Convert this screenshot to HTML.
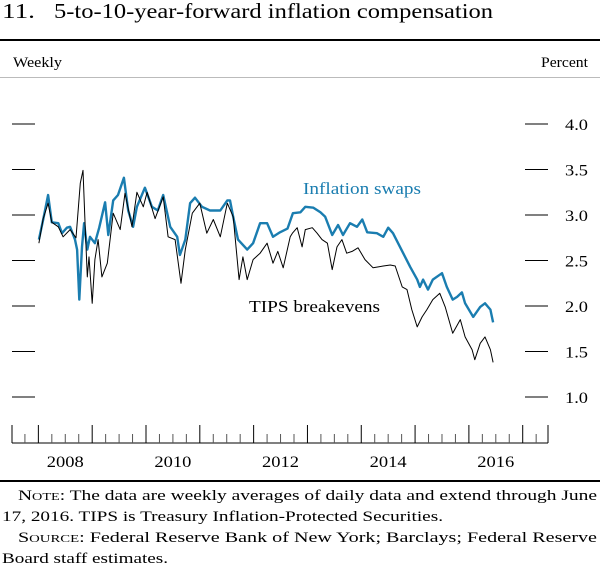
<!DOCTYPE html>
<html><head><meta charset="utf-8"><style>
body{margin:0;background:#fff;width:600px;height:567px;overflow:hidden;}
svg text{font-family:"Liberation Serif",serif;}
</style></head><body>
<svg width="600" height="567" xmlns="http://www.w3.org/2000/svg" style="position:absolute;left:0;top:0">
<text x="2" y="18" font-size="21" textLength="33" lengthAdjust="spacingAndGlyphs">11.</text>
<text x="54" y="18" font-size="21" textLength="439" lengthAdjust="spacingAndGlyphs">5-to-10-year-forward inflation compensation</text>
<rect x="0" y="39" width="600" height="2" fill="#000"/>
<text x="13" y="67" font-size="15" textLength="49" lengthAdjust="spacingAndGlyphs">Weekly</text>
<text x="541" y="67" font-size="15" textLength="47" lengthAdjust="spacingAndGlyphs">Percent</text>
<line x1="0" x2="600" y1="77.5" y2="77.5" stroke="#bbb" stroke-width="1"/>
<g id="yaxis"></g>
<g id="xaxis"></g>
<g id="series"></g>
<text x="303" y="194" font-size="17" fill="#1a7db0" textLength="118" lengthAdjust="spacingAndGlyphs">Inflation swaps</text>
<text x="249" y="312" font-size="17" fill="#000" textLength="131" lengthAdjust="spacingAndGlyphs">TIPS breakevens</text>
<rect x="0" y="480" width="600" height="2" fill="#000"/>
<text x="18" y="500" font-size="15" textLength="579" lengthAdjust="spacingAndGlyphs">N<tspan font-size="11">OTE</tspan>:  The data are weekly averages of daily data and extend through June</text>
<text x="2" y="521" font-size="15" textLength="441" lengthAdjust="spacingAndGlyphs">17, 2016. TIPS is Treasury Inflation-Protected Securities.</text>
<text x="18" y="542" font-size="15" textLength="579" lengthAdjust="spacingAndGlyphs">S<tspan font-size="11">OURCE</tspan>:  Federal Reserve Bank of New York; Barclays; Federal Reserve</text>
<text x="2" y="563" font-size="15" textLength="166" lengthAdjust="spacingAndGlyphs">Board staff estimates.</text>
</svg>
<script>
const yTicks=[1.0,1.5,2.0,2.5,3.0,3.5,4.0];
const xYears=[2008,2009,2010,2011,2012,2013,2014,2015,2016,2017];
const xLabels=["2008","2010","2012","2014","2016"];
const tipsDates=[2008.01,2008.09,2008.18,2008.25,2008.37,2008.46,2008.59,2008.70,2008.78,2008.83,2008.87,2008.91,2008.94,2009.00,2009.05,2009.11,2009.18,2009.28,2009.39,2009.52,2009.61,2009.74,2009.83,2009.95,2010.02,2010.17,2010.32,2010.41,2010.54,2010.65,2010.73,2010.86,2011.00,2011.13,2011.25,2011.38,2011.51,2011.62,2011.73,2011.80,2011.88,2011.99,2012.12,2012.25,2012.36,2012.45,2012.55,2012.68,2012.72,2012.81,2012.90,2012.96,2013.09,2013.18,2013.27,2013.37,2013.46,2013.55,2013.64,2013.73,2013.83,2013.94,2014.07,2014.22,2014.41,2014.54,2014.63,2014.76,2014.85,2014.94,2015.04,2015.13,2015.22,2015.33,2015.46,2015.56,2015.70,2015.84,2015.93,2016.06,2016.11,2016.21,2016.30,2016.40,2016.45];
const tipsValues=[2.69,2.96,3.13,2.92,2.87,2.76,2.84,2.75,3.35,3.49,2.87,2.32,2.54,2.03,2.51,2.73,2.32,2.47,3.02,2.84,3.24,2.87,3.25,3.09,3.25,2.96,3.20,2.76,2.73,2.25,2.62,3.02,3.13,2.80,2.95,2.76,3.13,2.98,2.29,2.54,2.29,2.51,2.58,2.69,2.47,2.60,2.42,2.76,2.80,2.86,2.65,2.84,2.86,2.80,2.73,2.69,2.40,2.65,2.73,2.58,2.60,2.64,2.51,2.42,2.44,2.45,2.44,2.21,2.18,1.96,1.77,1.88,1.96,2.07,2.14,1.99,1.70,1.85,1.66,1.52,1.41,1.59,1.66,1.52,1.38];
const swapDates=[2008.01,2008.09,2008.18,2008.25,2008.37,2008.44,2008.53,2008.59,2008.68,2008.72,2008.76,2008.81,2008.85,2008.91,2008.96,2009.05,2009.13,2009.24,2009.30,2009.39,2009.48,2009.59,2009.67,2009.76,2009.83,2009.98,2010.11,2010.22,2010.32,2010.45,2010.58,2010.63,2010.73,2010.82,2010.91,2011.04,2011.19,2011.38,2011.51,2011.56,2011.62,2011.71,2011.88,2011.99,2012.12,2012.25,2012.36,2012.49,2012.63,2012.73,2012.87,2012.96,2013.11,2013.24,2013.33,2013.46,2013.57,2013.66,2013.79,2013.92,2014.02,2014.11,2014.29,2014.41,2014.50,2014.59,2014.72,2014.78,2014.91,2015.04,2015.09,2015.15,2015.24,2015.33,2015.50,2015.59,2015.70,2015.78,2015.87,2015.93,2016.08,2016.21,2016.30,2016.40,2016.45];
const swapValues=[2.73,2.95,3.22,2.92,2.91,2.80,2.86,2.87,2.73,2.62,2.07,2.65,2.91,2.62,2.76,2.69,2.86,3.14,2.78,3.16,3.22,3.41,3.05,2.87,3.09,3.30,3.09,3.05,3.22,2.87,2.76,2.56,2.73,3.13,3.19,3.09,3.05,3.05,3.16,3.16,2.98,2.73,2.62,2.69,2.91,2.91,2.76,2.81,2.85,3.02,3.03,3.09,3.08,3.03,2.98,2.78,2.89,2.78,2.91,2.87,2.95,2.81,2.80,2.76,2.86,2.80,2.65,2.58,2.43,2.29,2.21,2.29,2.18,2.29,2.36,2.21,2.07,2.10,2.15,2.03,1.88,1.99,2.03,1.96,1.82];

const NS="http://www.w3.org/2000/svg";
const X0=12,X1=548,D0=2007.51,D1=2017.47;
const xs=d=>X0+(d-D0)/(D1-D0)*(X1-X0);
const ys=v=>124+(4-v)*91;
function mk(tag,attrs,parent){const e=document.createElementNS(NS,tag);for(const k in attrs)e.setAttribute(k,attrs[k]);parent.appendChild(e);return e;}
const ya=document.getElementById('yaxis'),xa=document.getElementById('xaxis'),sg=document.getElementById('series');
yTicks.forEach(v=>{
  const l=mk('line',{x1:12,x2:35,y1:ys(v),y2:ys(v),stroke:'#000','stroke-width':1},ya);
  
  
  const r=mk('line',{x1:525,x2:548,y1:ys(v),y2:ys(v),stroke:'#000','stroke-width':1},ya);
  
  
  const t=mk('text',{x:565,y:ys(v)+6,'font-size':16,textLength:23,lengthAdjust:'spacingAndGlyphs'},ya);
  t.textContent=v.toFixed(1);
  
  
});
const base=mk('line',{x1:X0,x2:X1,y1:443,y2:443,stroke:'#000','stroke-width':1},xa);


[X0,X1].forEach(x=>{const e=mk('line',{x1:x,x2:x,y1:425,y2:443,stroke:'#000','stroke-width':1},xa);

});
xYears.forEach(y=>{
  const e=mk('line',{x1:xs(y),x2:xs(y),y1:425,y2:443,stroke:'#000','stroke-width':1},xa);
  
  
  [0.25,0.5,0.75].forEach(q=>{const d=y+q-1; if(d>D0&&d<D1){const s=mk('line',{x1:xs(d),x2:xs(d),y1:434,y2:443,stroke:'#555','stroke-width':1},xa);
  
  }});
});
[2017.25].forEach(d=>{const s=mk('line',{x1:xs(d),x2:xs(d),y1:434,y2:443,stroke:'#555','stroke-width':1},xa);

});
xLabels.forEach(l=>{const t=mk('text',{x:xs(+l+0.5)-18.5,y:467,'font-size':16,textLength:37,lengthAdjust:'spacingAndGlyphs'},xa);t.textContent=l;

});
function path(ds,vs){return ds.map((d,i)=>(i?'L':'M')+xs(d).toFixed(1)+','+ys(vs[i]).toFixed(1)).join('');}
const p1=mk('path',{d:path(swapDates,swapValues),fill:'none',stroke:'#1a7db0','stroke-width':2.4,'stroke-linejoin':'round'},sg);


const p2=mk('path',{d:path(tipsDates,tipsValues),fill:'none',stroke:'#000','stroke-width':1,'stroke-linejoin':'round'},sg);


</script>
</body></html>
